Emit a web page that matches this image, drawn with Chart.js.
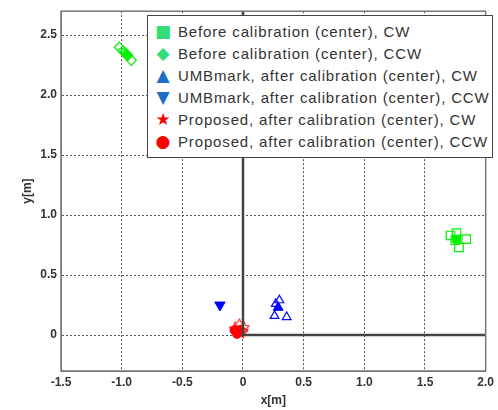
<!DOCTYPE html>
<html>
<head>
<meta charset="utf-8">
<script src="https://cdn.jsdelivr.net/npm/chart.js@4.4.1/dist/chart.umd.min.js"></script>
<style>
  html, body { margin: 0; padding: 0; background: #fff; }
  #wrap { position: relative; width: 498px; height: 410px; }
  #legend {
    position: absolute; left: 147px; top: 15px; width: 346px; height: 143px;
    box-sizing: border-box; border: 1px solid #444; background: #fff;
    font-family: "Liberation Sans", Arial, sans-serif; font-size: 15px; color: #333;
    padding-top: 4px; letter-spacing: 0.85px;
  }
  #legend .row { height: 22px; line-height: 22px; white-space: nowrap; }
  #legend .sym { display: inline-block; width: 30px; text-align: center; font-family: "DejaVu Sans"; font-size: 17px; letter-spacing: 0; }
</style>
</head>
<body>
<div id="wrap">
  <canvas id="chart" width="498" height="410"></canvas>
  <div id="legend"></div>
</div>
<script>
// before calibration, CW (squares) : individual runs + mean
const beforeCwX = [1.71, 1.76, 1.84, 1.78, 1.75]
const beforeCwY = [0.83, 0.85, 0.80, 0.73, 0.79]
const beforeCwMean = [1.76, 0.80]
// before calibration, CCW (diamonds)
const beforeCcwX = [-1.02, -0.92, -0.99, -0.95, -0.97]
const beforeCcwY = [2.40, 2.29, 2.37, 2.33, 2.35]
const beforeCcwMean = [-0.96, 2.34]
// UMBmark, CW (up triangles)
const umbCwX = [0.30, 0.27, 0.26, 0.36, 0.29]
const umbCwY = [0.29, 0.26, 0.16, 0.15, 0.23]
const umbCwMean = [0.29, 0.23]
// UMBmark, CCW (down triangle)
const umbCcwMean = [-0.19, 0.25]
// proposed, CW (stars)
const propCwX = [-0.03, 0.00, -0.07, -0.02, 0.01]
const propCwY = [0.10, 0.04, 0.06, 0.02, 0.07]
const propCwMean = [-0.02, 0.05]
// proposed, CCW (circles)
const propCcwX = [-0.06, -0.04, -0.07, -0.05, -0.03]
const propCcwY = [0.03, 0.02, 0.04, 0.01, 0.04]
const propCcwMean = [-0.05, 0.03]
// reference path
const pathX = [0, 0, 2]
const pathY = [2.7, 0, 0]

const xTicks = [-1.5, -1, -0.5, 0, 0.5, 1, 1.5, 2]
const yTicks = [0, 0.5, 1, 1.5, 2, 2.5]

const labels = [
  "Before calibration (center), CW",
  "Before calibration (center), CCW",
  "UMBmark, after calibration (center), CW",
  "UMBmark, after calibration (center), CCW",
  "Proposed, after calibration (center), CW",
  "Proposed, after calibration (center), CCW"
]

const GREEN = '#00f000', BLUE = '#0000ff', RED = '#ff0000'

function pts(xs, ys) { return xs.map((x, i) => ({ x: x, y: ys[i] })) }
function one(m) { return [{ x: m[0], y: m[1] }] }

function starImg(size, filled) {
  const c = document.createElement('canvas')
  c.width = size; c.height = size
  const g = c.getContext('2d')
  const r = size / 2 - 1, r2 = r * 0.42
  g.beginPath()
  for (let i = 0; i < 10; i++) {
    const a = -Math.PI / 2 + i * Math.PI / 5
    const rr = i % 2 ? r2 : r
    g.lineTo(size / 2 + rr * Math.cos(a), size / 2 + 1 + rr * Math.sin(a))
  }
  g.closePath()
  if (filled) { g.fillStyle = RED; g.fill() }
  else { g.strokeStyle = RED; g.lineWidth = 1; g.stroke() }
  return c
}

function runs(data, color, style, radius, extra) {
  return Object.assign({
    type: 'scatter', data: data, pointStyle: style, pointRadius: radius,
    borderColor: color, backgroundColor: 'rgba(0,0,0,0)', pointBorderWidth: 1.2
  }, extra || {})
}
function mean(data, color, style, radius, extra) {
  return Object.assign({
    type: 'scatter', data: data, pointStyle: style, pointRadius: radius,
    borderColor: color, backgroundColor: color, pointBorderWidth: 1
  }, extra || {})
}

const tickFont = { family: 'Liberation Sans, Arial', size: 12, weight: 'bold' }

// box around the plot + the y axis title
const frame = {
  id: 'frame',
  afterDraw(chart) {
    const a = chart.chartArea, g = chart.ctx
    g.save()
    g.strokeStyle = '#777'
    g.lineWidth = 1.5
    g.strokeRect(a.left, a.top, a.right - a.left, a.bottom - a.top)
    g.translate(a.left - 33, (a.top + a.bottom) / 2)
    g.rotate(-Math.PI / 2)
    g.font = 'bold 12px "Liberation Sans", Arial'
    g.fillStyle = '#333'
    g.textAlign = 'center'
    g.textBaseline = 'middle'
    g.fillText('y[m]', 0, 0)
    g.restore()
  }
}

new Chart(document.getElementById('chart'), {
  data: {
    datasets: [
      { type: 'line', data: pts(pathX, pathY), borderColor: '#444', borderWidth: 2.5, pointRadius: 0, fill: false },
      runs(pts(beforeCwX, beforeCwY), GREEN, 'rect', 6),
      mean(one(beforeCwMean), GREEN, 'rect', 5.5),
      runs(pts(beforeCcwX, beforeCcwY), GREEN, 'rectRot', 5),
      mean(one(beforeCcwMean), GREEN, 'rectRot', 5.5),
      runs(pts(umbCwX, umbCwY), BLUE, 'triangle', 5),
      mean(one(umbCwMean), BLUE, 'triangle', 5.5),
      mean(one(umbCcwMean), BLUE, 'triangle', 6, { rotation: 180 }),
      runs(pts(propCwX, propCwY), RED, starImg(13, false), 6),
      mean(one(propCwMean), RED, starImg(14, true), 7),
      mean(pts(propCcwX, propCcwY), RED, 'circle', 4.5),
      mean(one(propCcwMean), RED, 'circle', 5)
    ]
  },
  options: {
    responsive: false,
    animation: false,
    layout: { padding: { top: 5, right: 9, left: 0, bottom: 0 } },
    plugins: { legend: { display: false }, tooltip: { enabled: false } },
    scales: {
      x: {
        type: 'linear', min: -1.5, max: 2,
        afterBuildTicks: s => { s.ticks = xTicks.map(v => ({ value: v })) },
        afterFit: s => { s.height = 39 },
        ticks: { font: tickFont, color: '#333', padding: 4 },
        grid: { color: '#555', lineWidth: 1, drawTicks: false },
        border: { display: true, color: '#777', dash: [2, 2] },
        title: { display: true, text: 'x[m]', font: tickFont, color: '#333', padding: { top: 0, bottom: 2 } }
      },
      y: {
        type: 'linear', min: -0.3, max: 2.7,
        afterBuildTicks: s => { s.ticks = yTicks.map(v => ({ value: v })) },
        afterFit: s => { s.width = 61 },
        ticks: { font: tickFont, color: '#333', padding: 4 },
        grid: { color: '#555', lineWidth: 1, drawTicks: false },
        border: { display: true, color: '#777', dash: [2, 2] },
        title: { display: false }
      }
    }
  },
  plugins: [frame]
})

const syms = [['■', '#33dd77'], ['◆', '#33dd77'], ['▲', '#1a6fc8'], ['▼', '#1a6fc8'], ['★', RED], ['●', RED]]
document.getElementById('legend').innerHTML = labels.map((t, i) =>
  '<div class="row"><span class="sym" style="color:' + syms[i][1] + '">' + syms[i][0] + '</span>' + t + '</div>'
).join('')
</script>
</body>
</html>
